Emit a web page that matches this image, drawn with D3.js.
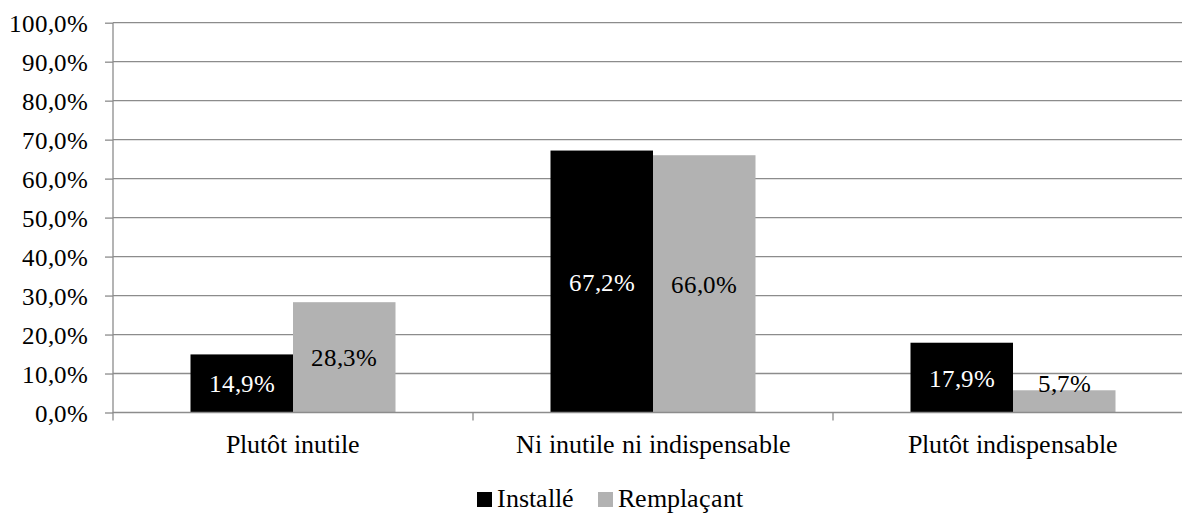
<!DOCTYPE html>
<html><head><meta charset="utf-8">
<script src="https://cdn.jsdelivr.net/npm/d3@7"></script>
<style>
@font-face{font-family:"ChartSerif";src:local("Liberation Serif"),local("LiberationSerif"),local("LiberationSerif-Regular");}
body{margin:0;background:#fff}
svg text{font-family:"ChartSerif","Liberation Serif","Times New Roman",serif !important}
</style>
</head><body><svg id="c" width="1182" height="513"></svg>
<script>
const categories = ["Plutôt inutile", "Ni inutile ni indispensable", "Plutôt indispensable"];
const seriesNames = ["Installé", "Remplaçant"];
const installe = [14.9, 67.2, 17.9];
const remplacant = [28.3, 66.0, 5.7];
const yTicks = [0, 10, 20, 30, 40, 50, 60, 70, 80, 90, 100];
const colors = ["#000000", "#b2b2b2"];
const labelColors = ["#ffffff", "#000000"];

(function () {
const FONT = "Liberation Serif";
const svg = d3.select("#c");
const fmt = v => v.toFixed(1).replace(".", ",") + "%";
const pLeft = 113, pRight = 1193, pTop = 22.7, pBottom = 412.5;
const x = d3.scaleBand().domain(categories).range([pLeft, pRight]).paddingInner(0).paddingOuter(0);
const y = d3.scaleLinear().domain([0, 100]).range([pBottom, pTop]);
const inner = 205 / 360;
const x1 = d3.scaleBand().domain(seriesNames).range([0, x.bandwidth() * inner]);
const off = x.bandwidth() * (1 - inner) / 2;

// gridlines
svg.append("g").selectAll("line").data(yTicks.slice(1)).join("line")
  .attr("x1", pLeft).attr("x2", 1182).attr("y1", d => y(d)).attr("y2", d => y(d))
  .attr("stroke", "#8c8c8c").attr("stroke-width", 1.3);

// y axis (lines via d3 axis, labels as root-level texts)
const ya = svg.append("g").attr("transform", `translate(${pLeft},0)`)
  .call(d3.axisLeft(y).tickValues(yTicks).tickFormat("").tickSize(8));
ya.selectAll("text").remove();
ya.selectAll("path,line").attr("stroke", "#8c8c8c").attr("stroke-width", 1.3);
ya.select(".domain").attr("d", `M0,${pTop}V${pBottom + 0.5}`);
yTicks.forEach(t => {
  svg.append("text").attr("x", pLeft - 25).attr("y", y(t) + 9)
    .attr("text-anchor", "end").attr("font-size", 25).attr("font-family", FONT)
    .attr("fill", "#000").text(fmt(t));
});

// bars
const flat = [];
categories.forEach((c, i) => [installe[i], remplacant[i]].forEach((v, j) => flat.push({c, v, s: seriesNames[j], j})));
svg.append("g").selectAll("rect").data(flat).join("rect")
  .attr("x", d => x(d.c) + off + x1(d.s)).attr("width", x1.bandwidth())
  .attr("y", d => y(d.v)).attr("height", d => y(0) - y(d.v))
  .attr("fill", d => colors[d.j]);
flat.forEach(d => {
  const h = y(0) - y(d.v);
  const cy = h < 30 ? y(0) - 30 : (y(0) + y(d.v)) / 2;
  svg.append("text").attr("x", x(d.c) + off + x1(d.s) + x1.bandwidth() / 2).attr("y", cy + 9)
    .attr("text-anchor", "middle").attr("font-size", 25).attr("font-family", FONT)
    .attr("fill", labelColors[d.j]).text(fmt(d.v));
});

// x axis
svg.append("line").attr("x1", pLeft).attr("x2", 1182).attr("y1", pBottom).attr("y2", pBottom)
  .attr("stroke", "#8c8c8c").attr("stroke-width", 1.3);
svg.append("g").selectAll("line").data(categories.map(c => x(c))).join("line")
  .attr("x1", d => d).attr("x2", d => d).attr("y1", pBottom).attr("y2", pBottom + 8)
  .attr("stroke", "#8c8c8c").attr("stroke-width", 1.3);
categories.forEach(c => {
  svg.append("text").attr("x", x(c) + x.bandwidth() / 2).attr("y", pBottom + 40)
    .attr("text-anchor", "middle").attr("font-size", 26).attr("font-family", FONT).text(c);
});

// legend
const legX = [477, 598];
seriesNames.forEach((s, i) => {
  svg.append("rect").attr("x", legX[i]).attr("y", 492).attr("width", 15).attr("height", 15).attr("fill", colors[i]);
  svg.append("text").attr("x", legX[i] + 20).attr("y", 507).attr("font-size", 26).attr("font-family", FONT).text(s);
});
})();
</script></body></html>
